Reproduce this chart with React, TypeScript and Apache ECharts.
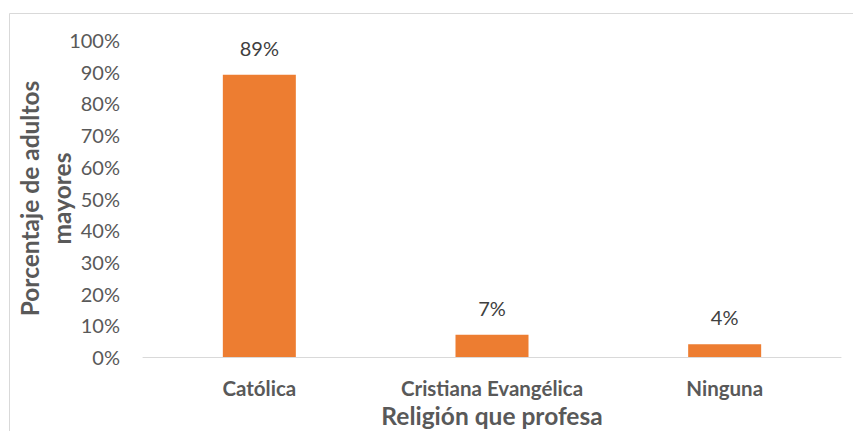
import React, { useEffect, useRef } from "react";
import * as echarts from "echarts";

const categories = ["Católica", "Cristiana Evangélica", "Ninguna"];
const values = [89, 7, 4];
const yTitle = "Porcentaje de adultos\nmayores";
const xTitle = "Religión que profesa";

export default function App() {
  const ref = useRef<HTMLDivElement>(null);
  useEffect(() => {
    const chart = echarts.init(ref.current!, null, { renderer: "svg" });
    chart.setOption({
      animation: false,
      textStyle: { fontFamily: "Lato" },
      graphic: [
        {
          type: "rect",
          shape: { x: 9.5, y: 13.5, width: 900, height: 500 },
          style: { fill: "none", stroke: "#d9d9d9", lineWidth: 1 },
          silent: true,
        },
      ],
      grid: {
        left: 143,
        right: 12,
        top: 40,
        bottom: 74,
        containLabel: false,
        outerBoundsMode: "none",
      },
      xAxis: {
        type: "category",
        data: categories,
        axisLine: { lineStyle: { color: "#d9d9d9", width: 1 } },
        axisTick: { show: false },
        axisLabel: {
          color: "#595959",
          fontSize: 20.5,
          fontWeight: "bold",
          margin: 20,
          lineHeight: 22,
          interval: 0,
        },
        name: xTitle,
        nameLocation: "middle",
        nameGap: 46,
        nameMoveOverlap: false,
        nameTextStyle: { color: "#595959", fontSize: 24.5, fontWeight: "bold", lineHeight: 24 },
      },
      yAxis: {
        type: "value",
        min: 0,
        max: 100,
        interval: 10,
        splitLine: { show: false },
        axisLine: { show: false },
        axisTick: { show: false },
        axisLabel: { color: "#595959", fontSize: 20, margin: 23, formatter: "{value}%" },
        name: yTitle,
        nameLocation: "middle",
        nameRotate: 90,
        nameGap: 66,
        nameMoveOverlap: false,
        nameTextStyle: { color: "#595959", fontSize: 24.5, fontWeight: "bold", lineHeight: 32 },
      },
      series: [
        {
          type: "bar",
          data: values,
          barWidth: 73,
          itemStyle: { color: "#ED7D31" },
          label: {
            show: true,
            position: "top",
            distance: 17,
            formatter: "{c}%",
            color: "#404040",
            fontSize: 20,
          },
        },
      ],
    });
    return () => chart.dispose();
  }, []);
  return <div ref={ref} style={{ width: 853, height: 431, position: "absolute", left: 0, top: 0 }} />;
}
